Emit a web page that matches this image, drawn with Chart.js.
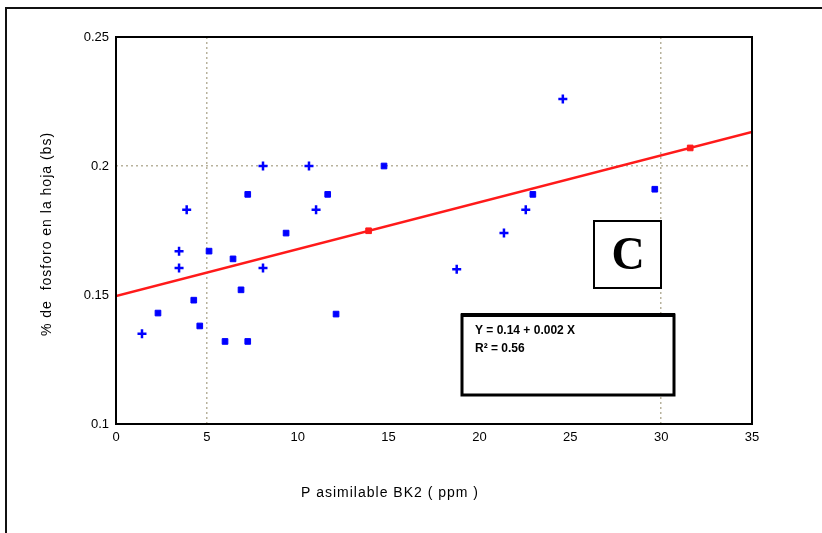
<!DOCTYPE html>
<html>
<head>
<meta charset="utf-8">
<script src="https://cdn.jsdelivr.net/npm/chart.js@4/dist/chart.umd.min.js"></script>
<style>
  body { margin: 0; background: #fff; }
  canvas { display: block; }
</style>
</head>
<body>
<canvas id="chart" width="822" height="533"></canvas>
<script>
// P asimilable BK2 (ppm) vs % de fosforo en la hoja
const pValues = [1.43, 2.31, 3.47, 3.47, 3.89, 4.28, 4.61, 5.12, 6.0, 6.44, 6.88, 7.25, 7.25, 8.09,
  8.09, 9.36, 10.62, 11.01, 11.65, 12.11, 14.75, 18.75, 21.35, 22.55, 22.94, 24.59, 29.65]
const fosforo = [0.135, 0.143, 0.167, 0.1605, 0.183, 0.148, 0.138, 0.167, 0.132, 0.164, 0.152, 0.132, 0.189, 0.2,
  0.1605, 0.174, 0.2, 0.183, 0.189, 0.1426, 0.2, 0.160, 0.174, 0.183, 0.189, 0.226, 0.191]
const markers = ['cross', 'rect', 'cross', 'cross', 'cross', 'rect', 'rect', 'rect', 'rect', 'rect', 'rect', 'rect', 'rect', 'cross',
  'cross', 'rect', 'cross', 'cross', 'rect', 'rect', 'rect', 'cross', 'cross', 'cross', 'rect', 'cross', 'rect']

const fitX = [0, 35]
const fitY = [0.1496, 0.2132]
const fitMarkX = [13.9, 31.6]
const fitMarkY = [0.1749, 0.2070]

const xTicks = [0, 5, 10, 15, 20, 25, 30, 35]
const yTicks = [0.1, 0.15, 0.2, 0.25]
const xGridAt = [5, 30]
const yGridAt = [0.2]

const xTitle = 'P asimilable BK2 ( ppm )'
const yTitle = '% de  fosforo en la hoja (bs)'
const eqLines = ['Y = 0.14 + 0.002 X', 'R\u00b2 = 0.56']
const panelLetter = 'C'

const toPoints = (xs, ys) => xs.map((x, i) => ({ x: x, y: ys[i] }))

const decorations = {
  id: 'decorations',
  afterDraw (chart) {
    const ctx = chart.ctx
    const a = chart.chartArea
    ctx.save()
    // outer frame
    ctx.strokeStyle = '#111'
    ctx.lineWidth = 2
    ctx.beginPath()
    ctx.moveTo(6, 533)
    ctx.lineTo(6, 8)
    ctx.lineTo(822, 8)
    ctx.stroke()
    // plot frame
    ctx.lineWidth = 2
    ctx.strokeStyle = '#000'
    ctx.strokeRect(a.left, a.top, a.right - a.left, a.bottom - a.top)

    // panel letter box
    ctx.fillStyle = '#fff'
    ctx.fillRect(594, 221, 67, 67)
    ctx.strokeRect(594, 221, 67, 67)
    ctx.fillStyle = '#000'
    ctx.font = 'bold 46px "Liberation Serif", serif'
    ctx.textAlign = 'center'
    ctx.textBaseline = 'middle'
    ctx.fillText(panelLetter, 628, 257)

    // equation box
    ctx.fillStyle = '#fff'
    ctx.fillRect(462, 314, 212, 81)
    ctx.lineWidth = 3
    ctx.strokeRect(462, 315, 212, 80)
    ctx.lineWidth = 4
    ctx.beginPath()
    ctx.moveTo(461, 315)
    ctx.lineTo(675, 315)
    ctx.stroke()
    ctx.fillStyle = '#000'
    ctx.font = 'bold 12px "Liberation Sans", Arial, sans-serif'
    ctx.textAlign = 'left'
    eqLines.forEach((t, i) => ctx.fillText(t, 475, 331 + i * 18))

    // axis titles
    ctx.font = '14px "Liberation Sans", Arial, sans-serif'
    ctx.letterSpacing = '1px'
    ctx.textAlign = 'center'
    ctx.fillText(xTitle, 390, 493)
    ctx.translate(47, 234)
    ctx.rotate(-Math.PI / 2)
    ctx.fillText(yTitle, 0, 0)
    ctx.restore()
  }
}

new Chart(document.getElementById('chart').getContext('2d'), {
  type: 'scatter',
  data: {
    datasets: [{
      label: 'Observaciones',
      data: toPoints(pValues, fosforo),
      pointStyle: markers,
      radius: markers.map((m) => m === 'cross' ? 4.5 : 4),
      backgroundColor: '#0000ff',
      borderColor: '#0000ff',
      borderWidth: markers.map((m) => m === 'cross' ? 2.5 : 1),
      order: 2
    }, {
      label: 'Regresion',
      type: 'line',
      data: toPoints(fitX, fitY),
      borderColor: '#ff1a1a',
      borderWidth: 2.5,
      pointRadius: 0,
      fill: false,
      order: 1
    }, {
      label: 'Marcas',
      data: toPoints(fitMarkX, fitMarkY),
      pointStyle: 'rect',
      radius: 4,
      backgroundColor: '#ff1a1a',
      borderColor: '#ff1a1a',
      order: 0
    }]
  },
  options: {
    responsive: false,
    animation: false,
    layout: { padding: { left: 0, top: 37, right: 70, bottom: 0 } },
    plugins: { legend: { display: false }, tooltip: { enabled: false } },
    scales: {
      x: {
        type: 'linear',
        min: 0,
        max: 35,
        afterFit: (scale) => { scale.height = 109 },
        afterBuildTicks: (scale) => { scale.ticks = xTicks.map((v) => ({ value: v })) },
        ticks: { color: '#000', padding: 6, font: { size: 13, family: '"Liberation Sans", Arial, sans-serif' } },
        grid: {
          drawTicks: false,
          lineWidth: 1.5,
          color: (c) => c.tick && xGridAt.includes(c.tick.value) ? '#b8b29c' : 'transparent'
        },
        border: { display: false, dash: [2, 3] }
      },
      y: {
        min: 0.1,
        max: 0.25,
        afterFit: (scale) => { scale.width = 116 },
        afterBuildTicks: (scale) => { scale.ticks = yTicks.map((v) => ({ value: v })) },
        ticks: {
          color: '#000',
          padding: 7,
          font: { size: 13, family: '"Liberation Sans", Arial, sans-serif' },
          callback: (v) => String(+Number(v).toFixed(2))
        },
        grid: {
          drawTicks: false,
          lineWidth: 1.5,
          color: (c) => c.tick && yGridAt.includes(c.tick.value) ? '#b8b29c' : 'transparent'
        },
        border: { display: false, dash: [2, 3] }
      }
    }
  },
  plugins: [decorations]
})
</script>
</body>
</html>
